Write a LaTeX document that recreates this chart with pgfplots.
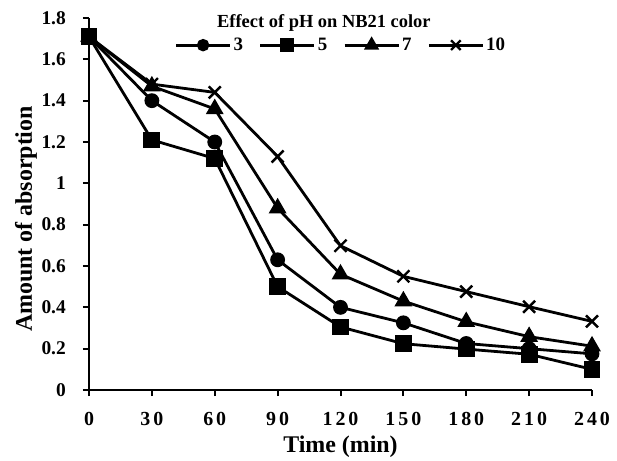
\documentclass[border=0pt]{standalone}
\usepackage{fontspec}
\setmainfont{Liberation Serif}
\usepackage{pgfplots}
\pgfplotsset{compat=1.18}

\begin{document}
\begin{tikzpicture}[x=1bp,y=1bp]
\begin{axis}[
    scale only axis,
    width=503bp, height=372bp,
    xmin=0, xmax=240, ymin=0, ymax=1.8,
    axis lines=left,
    axis line style={line width=2.8bp, -},
    xtick={0,30,...,240},
    xticklabels={0,3\kern3bp0,6\kern3bp0,9\kern3bp0,1\kern3bp2\kern3bp0,1\kern3bp5\kern3bp0,1\kern3bp8\kern3bp0,2\kern3bp1\kern3bp0,2\kern3bp4\kern3bp0},
    ytick={0,0.2,...,1.8},
    yticklabels={0,0.2,0.4,0.6,0.8,1,1.2,1.4,1.6,1.8},
    tick align=outside,
    major tick length=6bp,
    tick style={line width=2bp, black},
    /pgf/number format/assume math mode=true,
    xticklabel style={font=\fontsize{20}{22}\selectfont\bfseries, anchor=center, inner sep=0pt, yshift=-23bp},
    yticklabel style={font=\fontsize{19.5}{21}\selectfont\bfseries, anchor=east, inner sep=0pt, xshift=-17bp},
    xlabel={Time (min)},
    ylabel={Amount of absorption},
    xlabel style={font=\fontsize{24}{26}\selectfont\bfseries, inner sep=0pt,
        at={(axis description cs:0.5,0)}, anchor=center, yshift=-57bp},
    ylabel style={font=\fontsize{24}{27}\selectfont\bfseries, inner sep=0pt,
        at={(axis description cs:0,0.5)}, anchor=center, yshift=63bp, xshift=-15bp},
    clip=false,
    every axis plot/.append style={line width=2.8bp, black},
    legend columns=4,
    legend style={draw=none, fill=none, at={(0.17,0.927)}, anchor=west,
        font=\fontsize{19}{21}\selectfont\bfseries,
        /tikz/every even column/.append style={column sep=14bp},
        inner sep=0pt},
    legend image code/.code={\draw[mark repeat=2,mark phase=2,#1,every mark/.append style={scale=0.8}] plot coordinates {(0bp,0bp)(27bp,0bp)(54bp,0bp)};},
]
\addplot[mark=*, mark size=6bp] coordinates {
(0,1.71)(30,1.40)(60,1.20)(90,0.63)(120,0.40)(150,0.325)(180,0.225)(210,0.20)(240,0.175)};
\addplot[mark=square*, mark size=7bp] coordinates {
(0,1.71)(30,1.21)(60,1.12)(90,0.50)(120,0.305)(150,0.224)(180,0.198)(210,0.173)(240,0.10)};
\addplot[mark=triangle*, mark size=7.5bp] coordinates {
(0,1.71)(30,1.47)(60,1.36)(90,0.88)(120,0.56)(150,0.43)(180,0.33)(210,0.258)(240,0.212)};
\addplot[mark=x, mark size=8.5bp, mark options={line width=2.4bp}] coordinates {
(0,1.71)(30,1.48)(60,1.44)(90,1.13)(120,0.698)(150,0.55)(180,0.476)(210,0.403)(240,0.332)};
\legend{3,5,7,10}
\node[font=\fontsize{18.5}{20}\selectfont\bfseries, anchor=center, inner sep=0pt] at (axis description cs:0.467,0.986) {Effect of pH on NB21 color};
% page margins as in the reference
\path (axis description cs:0,0) ++(-89bp,-71bp) (axis description cs:1,1) ++(25bp,18bp);
\end{axis}
\end{tikzpicture}
\end{document}
